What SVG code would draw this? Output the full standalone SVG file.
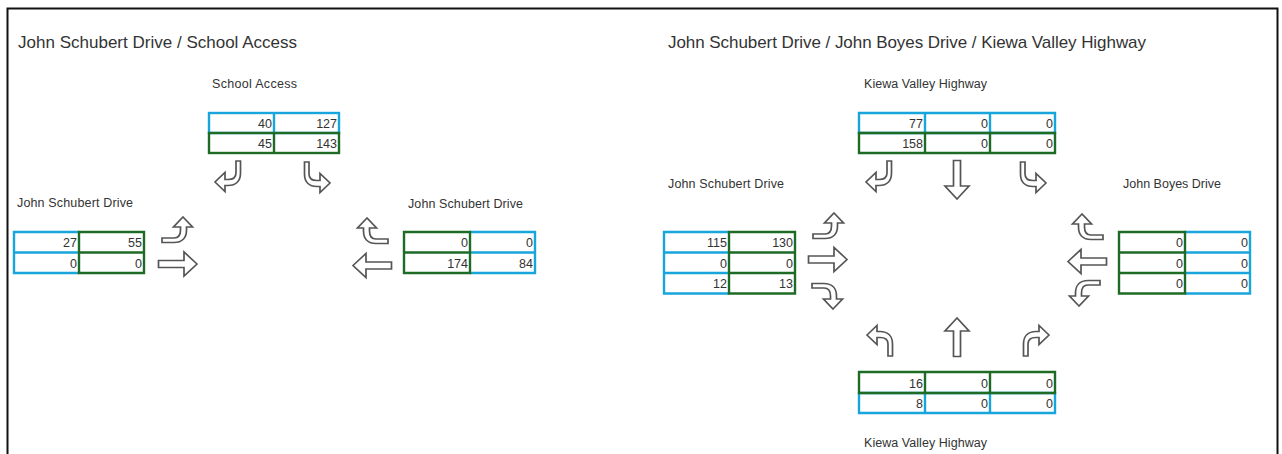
<svg xmlns="http://www.w3.org/2000/svg" width="1282" height="454" viewBox="0 0 1282 454">
<style>
text{font-family:"Liberation Sans",Arial,sans-serif;fill:#333}
.t{font-size:17px}
.l{font-size:12.500px}
.n{font-size:12.500px;text-anchor:end}
.b{fill:none;stroke:#18a5dc;stroke-width:2.400}
.g{fill:none;stroke:#1e6b26;stroke-width:2.400}
.a{fill:#fff;stroke:#555;stroke-width:1.700;stroke-linejoin:miter}
</style>
<defs>
<path id="bent" class="a" d="M0 0L9.500 10H3.500V13C3.500 21 -1 25.500 -9 25.500H-21V21H-9C-5 21 -2.500 18 -2.500 13V10H-9.500Z"/>
<path id="arrow" class="a" d="M0 0L-13 -12V-3.500H-38.500V3.500H-13V12Z"/>
</defs>
<rect x="7.500" y="8.500" width="1270" height="450" fill="#fff" stroke="#111" stroke-width="2"/>
<text class="t" x="18" y="48" textLength="279">John Schubert Drive / School Access</text>
<text class="t" x="668" y="48" textLength="478">John Schubert Drive / John Boyes Drive / Kiewa Valley Highway</text>

<g id="school-north">
<text class="l" x="212" y="88" textLength="85">School Access</text>
<rect class="b" x="209" y="113" width="130" height="20"/><line class="b" x1="274" y1="113" x2="274" y2="133"/>
<rect class="g" x="209" y="133" width="130" height="20"/><line class="g" x1="274" y1="133" x2="274" y2="153"/>
<text class="n" x="272" y="128">40</text><text class="n" x="337" y="128">127</text>
<text class="n" x="272" y="148">45</text><text class="n" x="337" y="148">143</text>
</g>
<g id="school-west">
<text class="l" x="17" y="207" textLength="116">John Schubert Drive</text>
<path class="b" d="M79 232H14V273H79M14 252.500H79"/>
<path class="g" d="M79 232H144V273H79ZM79 252.500H144"/>
<text class="n" x="77" y="247">27</text><text class="n" x="142" y="247">55</text>
<text class="n" x="77" y="268">0</text><text class="n" x="142" y="268">0</text>
</g>
<g id="school-east">
<text class="l" x="408" y="208" textLength="115">John Schubert Drive</text>
<path class="b" d="M470 232H535V273H470M470 252.500H535"/>
<path class="g" d="M470 232H404V273H470ZM404 252.500H470"/>
<text class="n" x="468" y="247">0</text><text class="n" x="533" y="247">0</text>
<text class="n" x="468" y="268">174</text><text class="n" x="533" y="268">84</text>
</g>
<g id="kiewa-north">
<text class="l" x="864" y="88" textLength="123">Kiewa Valley Highway</text>
<path class="b" d="M859 113H1055V133H859ZM925 113V133M990 113V133"/>
<path class="g" d="M859 133H1055V153H859ZM925 133V153M990 133V153"/>
<text class="n" x="923" y="128">77</text><text class="n" x="988" y="128">0</text><text class="n" x="1053" y="128">0</text>
<text class="n" x="923" y="148">158</text><text class="n" x="988" y="148">0</text><text class="n" x="1053" y="148">0</text>
</g>
<g id="schubert-west">
<text class="l" x="668" y="188" textLength="116">John Schubert Drive</text>
<path class="b" d="M729 232H664V293.500H729M664 252.500H729M664 273H729"/>
<path class="g" d="M729 232H795V293.500H729ZM729 252.500H795M729 273H795"/>
<text class="n" x="727" y="247">115</text><text class="n" x="793" y="247">130</text>
<text class="n" x="727" y="268">0</text><text class="n" x="793" y="268">0</text>
<text class="n" x="727" y="288">12</text><text class="n" x="793" y="288">13</text>
</g>
<g id="boyes-east">
<text class="l" x="1123" y="188" textLength="98">John Boyes Drive</text>
<path class="b" d="M1185 232H1250V293.500H1185M1185 252.500H1250M1185 273H1250"/>
<path class="g" d="M1185 232H1119V293.500H1185ZM1119 252.500H1185M1119 273H1185"/>
<text class="n" x="1183" y="247">0</text><text class="n" x="1248" y="247">0</text>
<text class="n" x="1183" y="268">0</text><text class="n" x="1248" y="268">0</text>
<text class="n" x="1183" y="288">0</text><text class="n" x="1248" y="288">0</text>
</g>
<g id="kiewa-south">
<text class="l" x="864" y="447" textLength="123">Kiewa Valley Highway</text>
<path class="b" d="M859 393H1055V413H859ZM925 393V413M990 393V413"/>
<path class="g" d="M859 372H1055V393H859ZM925 372V393M990 372V393"/>
<text class="n" x="923" y="388">16</text><text class="n" x="988" y="388">0</text><text class="n" x="1053" y="388">0</text>
<text class="n" x="923" y="408">8</text><text class="n" x="988" y="408">0</text><text class="n" x="1053" y="408">0</text>
</g>

<g id="connectors">
<use href="#bent" transform="matrix(0 1 1 0 215 182)"/>
<use href="#bent" transform="matrix(0 1 -1 0 330 183)"/>
<use href="#bent" transform="translate(183 217)"/>
<use href="#arrow" transform="translate(197 264)"/>
<use href="#bent" transform="matrix(-1 0 0 1 367 218)"/>
<use href="#arrow" transform="matrix(-1 0 0 1 353 265.500)"/>

<use href="#bent" transform="matrix(0 1 1 0 866 182)"/>
<use href="#arrow" transform="matrix(0 1 -1 0 957 199)"/>
<use href="#bent" transform="matrix(0 1 -1 0 1046 183)"/>
<use href="#bent" transform="translate(834 213)"/>
<use href="#arrow" transform="translate(847 259.500)"/>
<use href="#bent" transform="matrix(1 0 0 -1 833 309)"/>
<use href="#bent" transform="matrix(-1 0 0 1 1082 214)"/>
<use href="#arrow" transform="matrix(-1 0 0 1 1068 261.500)"/>
<use href="#bent" transform="matrix(-1 0 0 -1 1079 306)"/>
<use href="#bent" transform="matrix(0 -1 1 0 867 335)"/>
<use href="#arrow" transform="matrix(0 -1 1 0 957 318)"/>
<use href="#bent" transform="matrix(0 -1 -1 0 1049 335)"/>
</g>
</svg>
